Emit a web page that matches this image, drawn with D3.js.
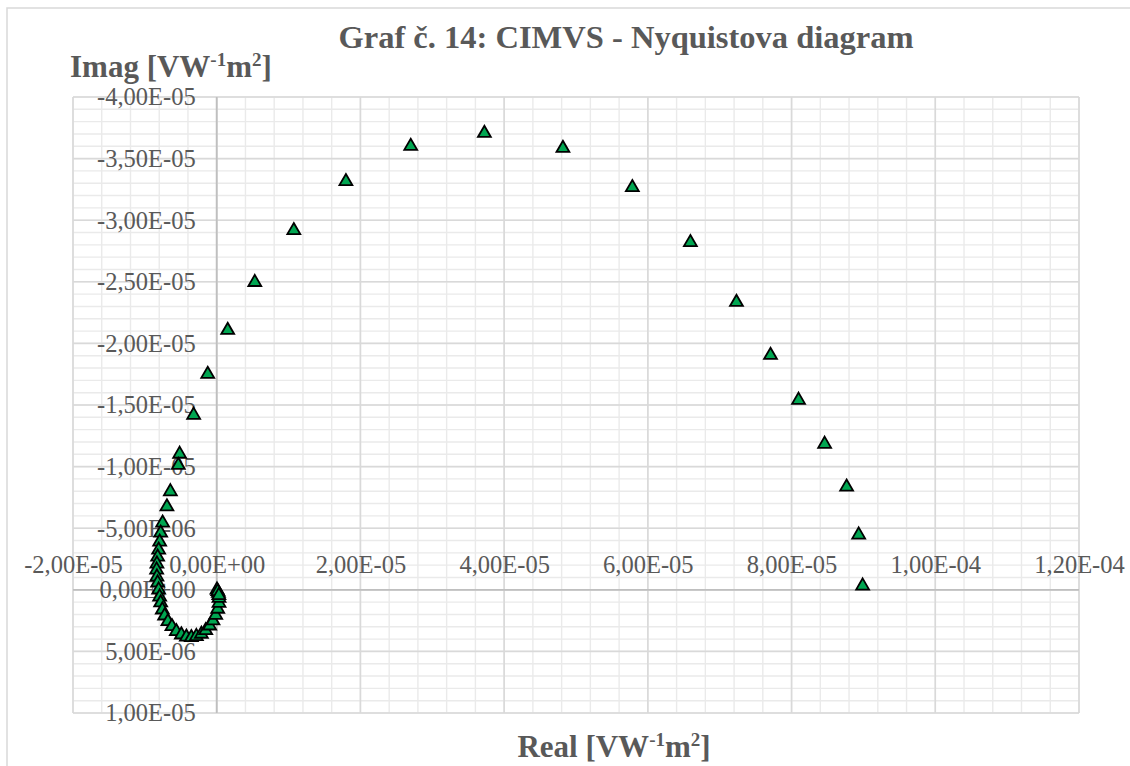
<!DOCTYPE html>
<html>
<head>
<meta charset="utf-8">
<script src="https://cdn.jsdelivr.net/npm/d3@7"></script>
<style>
  body { margin: 0; background: #fff; }
  svg text { font-family: "Liberation Serif", "Times New Roman", serif; fill: #595959; }
</style>
</head>
<body>
<div id="graph"></div>
<script>
// Real part [VW-1m2]
const realVals = [
  3.725e-5, 4.818e-5, 5.784e-5, 6.592e-5, 7.233e-5, 7.707e-5, 8.097e-5, 8.460e-5, 8.766e-5, 8.934e-5, 8.989e-5,
  2.700e-5, 1.798e-5, 1.073e-5, 5.30e-6, 1.53e-6, -1.25e-6, -3.21e-6, -5.16e-6, -5.34e-6, -6.45e-6, -6.93e-6,
  -7.53e-6, -7.80e-6, -7.94e-6, -8.08e-6, -8.22e-6, -8.32e-6, -8.36e-6, -8.32e-6, -8.22e-6, -8.08e-6, -7.94e-6,
  -7.80e-6, -7.57e-6, -7.25e-6, -6.79e-6, -6.23e-6, -5.62e-6, -4.92e-6, -4.22e-6, -3.53e-6, -2.83e-6, -2.13e-6,
  -1.53e-6, -9.8e-7, -5.2e-7, -1.4e-7, 1.4e-7, 3.2e-7, 3.2e-7, 2.4e-7, 4e-8, 1.5e-7, 3.0e-7
];
// Imag part [VW-1m2]
const imagVals = [
  -3.706e-5, -3.584e-5, -3.266e-5, -2.820e-5, -2.334e-5, -1.904e-5, -1.540e-5, -1.183e-5, -8.35e-6, -4.46e-6, -3.2e-7,
  -3.601e-5, -3.315e-5, -2.917e-5, -2.496e-5, -2.107e-5, -1.750e-5, -1.418e-5, -1.102e-5, -1.011e-5, -7.97e-6, -6.75e-6,
  -5.43e-6, -4.62e-6, -3.89e-6, -3.24e-6, -2.67e-6, -2.11e-6, -1.62e-6, -1.05e-6, -5.7e-7, 0, 5.7e-7,
  1.05e-6, 1.62e-6, 2.11e-6, 2.57e-6, 2.97e-6, 3.38e-6, 3.65e-6, 3.83e-6, 3.87e-6, 3.78e-6, 3.59e-6,
  3.30e-6, 2.92e-6, 2.51e-6, 2.05e-6, 1.56e-6, 1.08e-6, 6.7e-7, 2.7e-7, 0, 1.3e-7, 4.5e-7
];

const xTicks = [-2e-5, 0, 2e-5, 4e-5, 6e-5, 8e-5, 1e-4, 1.2e-4];
const yTicks = [-4e-5, -3.5e-5, -3e-5, -2.5e-5, -2e-5, -1.5e-5, -1e-5, -5e-6, 0, 5e-6, 1e-5];
const xMinorStep = 4e-6;
const yMinorStep = 1e-6;

const titleText = 'Graf č. 14: CIMVS - Nyquistova diagram';

const width = 1130, height = 766;
const margin = { top: 97, left: 73, right: 1130 - 1079, bottom: 766 - 713 };

function fmtE(v) {
  if (v === 0) return '0,00E+00';
  let s = v.toExponential(2).split('e');
  let exp = parseInt(s[1], 10);
  let sign = exp < 0 ? '-' : '+';
  let e = Math.abs(exp);
  return s[0].replace('.', ',') + 'E' + sign + (e < 10 ? '0' + e : e);
}

const svg = d3.select('#graph').append('svg')
  .attr('width', width)
  .attr('height', height);

// chart border (runs off the picture on the right and bottom)
svg.append('rect')
  .attr('x', 7).attr('y', 8)
  .attr('width', 1140).attr('height', 780)
  .attr('fill', '#fff')
  .attr('stroke', '#d9d9d9')
  .attr('stroke-width', 1.5);

const x = d3.scaleLinear().domain([-2e-5, 1.2e-4]).range([margin.left, width - margin.right]);
const y = d3.scaleLinear().domain([-4e-5, 1e-5]).range([margin.top, height - margin.bottom]);

const xMinor = d3.range(-2e-5, 1.2e-4 + 1e-12, xMinorStep);
const yMinor = d3.range(-4e-5, 1e-5 + 1e-12, yMinorStep);

const grid = svg.append('g').attr('class', 'grid');

grid.append('g').selectAll('line')
  .data(xMinor)
  .enter().append('line')
  .attr('x1', d => x(d)).attr('x2', d => x(d))
  .attr('y1', y.range()[0]).attr('y2', y.range()[1])
  .attr('stroke', '#eaeaea').attr('stroke-width', 1.4);

grid.append('g').selectAll('line')
  .data(yMinor)
  .enter().append('line')
  .attr('y1', d => y(d)).attr('y2', d => y(d))
  .attr('x1', x.range()[0]).attr('x2', x.range()[1])
  .attr('stroke', '#eaeaea').attr('stroke-width', 1.4);

grid.append('g').selectAll('line')
  .data(xTicks)
  .enter().append('line')
  .attr('x1', d => x(d)).attr('x2', d => x(d))
  .attr('y1', y.range()[0]).attr('y2', y.range()[1])
  .attr('stroke', '#d9d9d9').attr('stroke-width', 1.6);

grid.append('g').selectAll('line')
  .data(yTicks)
  .enter().append('line')
  .attr('y1', d => y(d)).attr('y2', d => y(d))
  .attr('x1', x.range()[0]).attr('x2', x.range()[1])
  .attr('stroke', '#d9d9d9').attr('stroke-width', 1.6);

// axis lines through zero
svg.append('line')
  .attr('x1', x(0)).attr('x2', x(0))
  .attr('y1', y.range()[0]).attr('y2', y.range()[1])
  .attr('stroke', '#bfbfbf').attr('stroke-width', 1.8);
svg.append('line')
  .attr('y1', y(0)).attr('y2', y(0))
  .attr('x1', x.range()[0]).attr('x2', x.range()[1])
  .attr('stroke', '#bfbfbf').attr('stroke-width', 1.8);

// tick labels
const yAxis = svg.append('g')
  .attr('transform', 'translate(' + x(0) + ',0)')
  .call(d3.axisLeft(y).tickValues(yTicks).tickFormat(fmtE).tickSize(0).tickPadding(21));
const xAxis = svg.append('g')
  .attr('transform', 'translate(0,' + y(0) + ')')
  .call(d3.axisTop(x).tickValues(xTicks).tickFormat(fmtE).tickSize(0).tickPadding(17));

[xAxis, yAxis].forEach(function(a) {
  a.select('.domain').remove();
  a.selectAll('text')
    .attr('font-family', null)
    .style('font-size', '24.5px')
    .style('fill', '#595959');
});

// points
const pts = realVals.map(function(d, i) { return { re: d, im: imagVals[i] }; });
svg.append('g').selectAll('path')
  .data(pts)
  .enter().append('path')
  .attr('d', d3.symbol().type(d3.symbolTriangle).size(72))
  .attr('transform', d => 'translate(' + x(d.re) + ',' + y(d.im) + ')')
  .attr('fill', '#00a651')
  .attr('stroke', '#000')
  .attr('stroke-width', 1.8);

// titles
svg.append('text')
  .attr('x', 626).attr('y', 48)
  .attr('text-anchor', 'middle')
  .style('font-size', '32.5px').style('font-weight', 'bold')
  .text(titleText);

function unitTitle(sel, label) {
  sel.append('tspan').text(label + ' [VW');
  sel.append('tspan').attr('dy', -11).style('font-size', '19px').text('-1');
  sel.append('tspan').attr('dy', 11).text('m');
  sel.append('tspan').attr('dy', -11).style('font-size', '19px').text('2');
  sel.append('tspan').attr('dy', 11).text(']');
}

const yTitle = svg.append('text')
  .attr('x', 70).attr('y', 77)
  .style('font-size', '31px').style('font-weight', 'bold');
unitTitle(yTitle, 'Imag');

const xTitle = svg.append('text')
  .attr('x', 614).attr('y', 757)
  .attr('text-anchor', 'middle')
  .style('font-size', '31px').style('font-weight', 'bold');
unitTitle(xTitle, 'Real');
</script>
</body>
</html>
